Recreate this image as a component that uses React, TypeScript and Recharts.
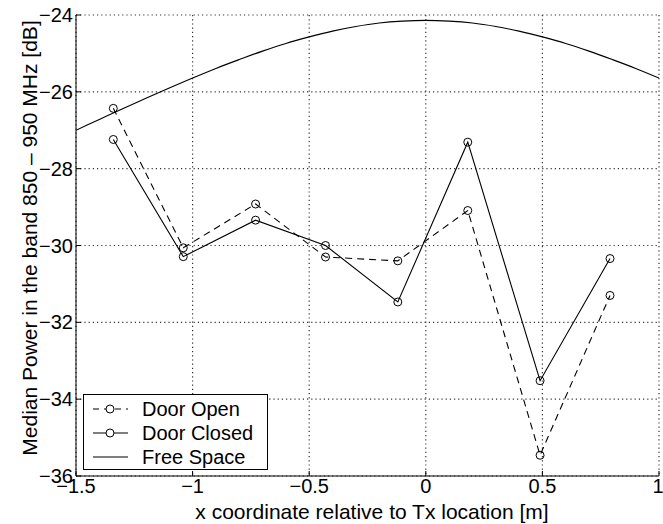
import React from 'react';
import { LineChart, Line, XAxis, YAxis, CartesianGrid, Legend } from 'recharts';

const positions = [-1.34, -1.04, -0.73, -0.43, -0.12, 0.18, 0.49, 0.79];
const doorOpen = [-26.43, -30.06, -28.92, -30.3, -30.4, -29.09, -35.46, -31.3];
const doorClosed = [-27.24, -30.29, -29.34, -30.0, -31.47, -27.31, -33.52, -30.34];

const freeSpaceX = [
  -1.5, -1.4, -1.3, -1.2, -1.1, -1.0, -0.9, -0.8, -0.7, -0.6, -0.5, -0.4, -0.3,
  -0.2, -0.1, 0, 0.1, 0.2, 0.3, 0.4, 0.5, 0.6, 0.7, 0.8, 0.9, 1.0,
];
const freeSpaceY = [
  -27.0, -26.72, -26.44, -26.17, -25.9, -25.64, -25.39, -25.16, -24.94, -24.74,
  -24.57, -24.42, -24.3, -24.21, -24.16, -24.14, -24.16, -24.21, -24.3, -24.42,
  -24.57, -24.74, -24.94, -25.16, -25.39, -25.64,
];

const xTicks = [-1.5, -1, -0.5, 0, 0.5, 1];
const yTicks = [-36, -34, -32, -30, -28, -26, -24];

const seriesNames = ['Door Open', 'Door Closed', 'Free Space'];

const openData = positions.map((x, i) => ({ x, y: doorOpen[i] }));
const closedData = positions.map((x, i) => ({ x, y: doorClosed[i] }));
const freeData = freeSpaceX.map((x, i) => ({ x, y: freeSpaceY[i] }));

const FONT = '"Liberation Sans", Arial, sans-serif';

const fmt = (v: number) => (v < 0 ? '\u2212' + String(Math.abs(v)) : String(v));
const blank = () => '';

const YLabel = () => (
  <text
    transform="translate(37, 238) rotate(-90)"
    textAnchor="middle"
    fontFamily={FONT}
    fontSize={21}
    fill="#000"
  >
    Median Power in the band 850 – 950 MHz [dB]
  </text>
);

const XLabel = () => (
  <text x={372} y={519} textAnchor="middle" fontFamily={FONT} fontSize={21} fill="#000">
    x coordinate relative to Tx location [m]
  </text>
);

const renderLegend = () => (
  <div
    style={{
      border: '1px solid #000',
      background: '#fff',
      width: 185,
      height: 76,
      boxSizing: 'border-box',
      fontFamily: FONT,
      fontSize: 20,
      paddingTop: 2,
    }}
  >
    {seriesNames.map((name, i) => (
      <div key={name} style={{ display: 'flex', alignItems: 'center', height: 24 }}>
        <svg width={50} height={16} style={{ marginLeft: 8 }}>
          <line
            x1={1}
            y1={8}
            x2={36}
            y2={8}
            stroke="#000"
            strokeWidth={1}
            strokeDasharray={i === 0 ? '6 5' : undefined}
          />
          {i < 2 && <circle cx={18} cy={8} r={4} fill="#fff" stroke="#000" strokeWidth={1} />}
        </svg>
        <span>{name}</span>
      </div>
    ))}
  </div>
);

const tickStyle = { fill: '#000', fontSize: 20, fontFamily: FONT };

const App = () => {
  return (
    <div style={{ position: 'absolute', left: 0, top: 0, background: '#fff' }}>
      <LineChart width={663} height={524} margin={{ top: 15, right: 4, bottom: 0, left: 16 }}>
        <CartesianGrid
          xAxisId="bottom"
          yAxisId="left"
          stroke="#333"
          strokeDasharray="1.2 3"
          strokeWidth={1.2}
          verticalValues={xTicks}
          horizontalValues={yTicks}
        />
        <XAxis
          xAxisId="bottom"
          dataKey="x"
          type="number"
          domain={[-1.5, 1]}
          ticks={xTicks}
          tickFormatter={fmt}
          allowDataOverflow
          height={48}
          stroke="#000"
          tickSize={-5}
          tickMargin={8}
          tick={tickStyle}
          label={<XLabel />}
        />
        <XAxis
          xAxisId="top"
          orientation="top"
          dataKey="x"
          type="number"
          domain={[-1.5, 1]}
          ticks={xTicks}
          tickFormatter={blank}
          height={0}
          stroke="#000"
          tickSize={-5}
        />
        <YAxis
          yAxisId="left"
          type="number"
          domain={[-36, -24]}
          ticks={yTicks}
          tickFormatter={fmt}
          allowDataOverflow
          width={60}
          stroke="#000"
          tickSize={-5}
          tickMargin={8}
          tick={tickStyle}
          label={<YLabel />}
        />
        <YAxis
          yAxisId="right"
          orientation="right"
          type="number"
          domain={[-36, -24]}
          ticks={yTicks}
          tickFormatter={blank}
          width={0}
          stroke="#000"
          tickSize={-5}
        />
        <Line
          xAxisId="bottom"
          yAxisId="left"
          data={freeData}
          dataKey="y"
          name="Free Space"
          stroke="#000"
          strokeWidth={1.1}
          dot={false}
          type="monotone"
          isAnimationActive={false}
        />
        <Line
          xAxisId="bottom"
          yAxisId="left"
          data={openData}
          dataKey="y"
          name="Door Open"
          stroke="#000"
          strokeWidth={1.1}
          strokeDasharray="7 5"
          dot={{ r: 4, fill: 'none', stroke: '#000', strokeWidth: 1, strokeDasharray: '' }}
          type="linear"
          isAnimationActive={false}
        />
        <Line
          xAxisId="bottom"
          yAxisId="left"
          data={closedData}
          dataKey="y"
          name="Door Closed"
          stroke="#000"
          strokeWidth={1.1}
          dot={{ r: 4, fill: 'none', stroke: '#000', strokeWidth: 1 }}
          type="linear"
          isAnimationActive={false}
        />
        <Legend
          content={renderLegend}
          layout="horizontal"
          verticalAlign="middle"
          align="center"
          wrapperStyle={{ position: 'absolute', left: 83, top: 394, width: 185, bottom: 'auto' }}
        />
      </LineChart>
    </div>
  );
};

export default App;
